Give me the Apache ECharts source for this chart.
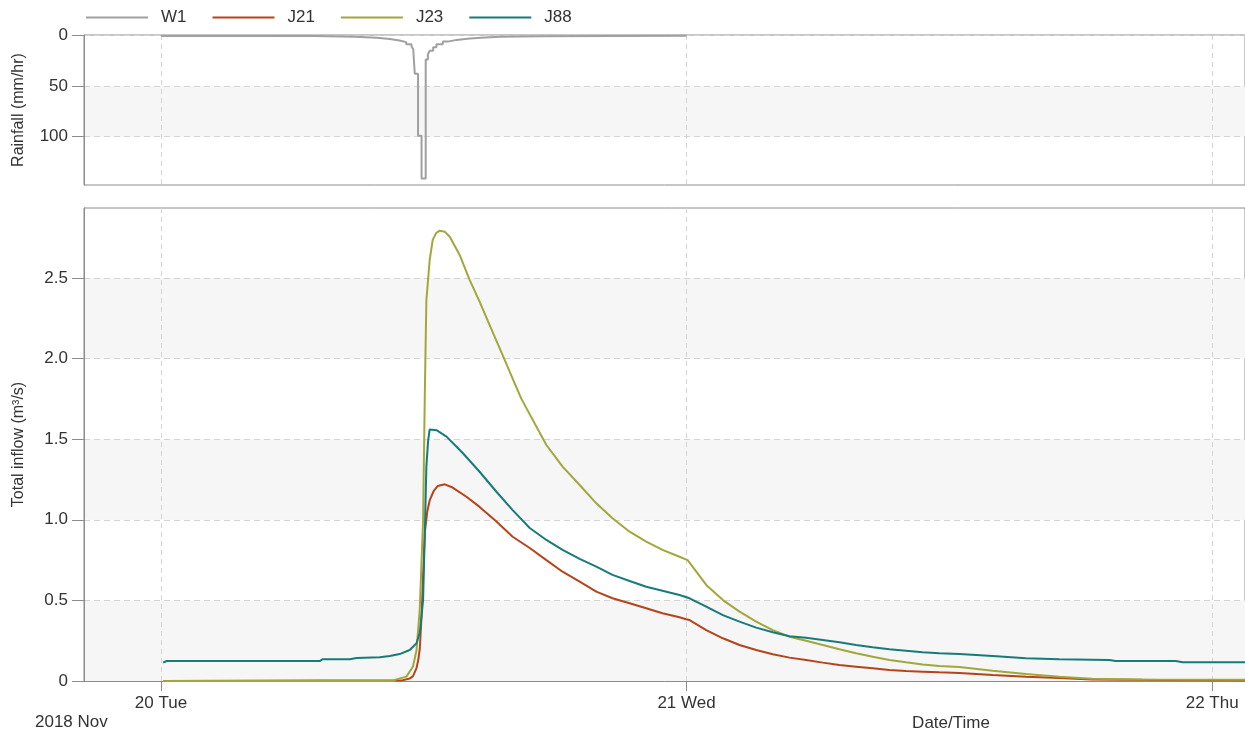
<!DOCTYPE html>
<html>
<head>
<meta charset="utf-8">
<title>Rainfall and total inflow</title>
<script src="https://cdn.jsdelivr.net/npm/echarts@6.0.0/dist/echarts.min.js"></script>
<style>
html, body { margin: 0; padding: 0; background: #fff; }
#chart { width: 1245px; height: 736px; }
</style>
</head>
<body>
<div id="chart"></div>
<script>
'use strict';
// all times are hours from 20 Nov 2018 00:00
var dayTicks = [0, 24, 48];
var dayLabels = ['20 Tue', '21 Wed', '22 Thu'];
var rainTicks = [0, 50, 100];
var flowTicks = [0, 0.5, 1, 1.5, 2, 2.5];
var seriesNames = ['W1', 'J21', 'J23', 'J88'];

// W1 rainfall (mm/hr), each value holds until the next time
var rainHours = [0, 7.0, 8.85, 9.86, 10.45, 10.9, 11.2, 11.44, 11.52, 11.59, 11.74, 11.9, 12.09, 12.19, 12.27, 12.43,
    12.58, 12.87, 13.1, 13.5, 14.1, 14.8, 15.5, 17.3, 24.0];
var rainValues = [1, 1.7, 2.8, 4, 5.5, 7, 9, 11, 14, 38, 99, 141, 24, 19, 15.5, 12,
    9, 6.5, 4.8, 3.5, 2.5, 1.7, 1.2, 0.7, 0.7];

// J21 total inflow (m3/s)
var j21Hours = [0.1, 11.04, 11.36, 11.51, 11.67, 11.75, 11.82, 11.9, 11.97, 12.05, 12.16, 12.27, 12.46, 12.64, 12.96,
    13.32, 13.95, 14.55, 15.32, 16.06, 16.84, 17.6, 18.34, 19.12, 19.88, 20.62, 21.4, 22.16, 22.9, 23.68, 23.98,
    24.14, 24.9, 25.66, 26.42, 27.18, 27.94, 28.7, 29.46, 30.22, 30.98, 31.74, 32.5, 33.26, 34.02, 34.78, 35.54,
    36.46, 37.98, 39.5, 41.02, 42.52, 45.58, 49.5];
var j21Values = [0, 0.005, 0.015, 0.03, 0.08, 0.13, 0.2, 0.4, 0.65, 0.92, 1.05, 1.12, 1.18, 1.21, 1.22,
    1.2, 1.143, 1.08, 0.99, 0.895, 0.825, 0.75, 0.678, 0.616, 0.554, 0.513, 0.482, 0.451, 0.42, 0.395, 0.383,
    0.378, 0.316, 0.265, 0.223, 0.192, 0.166, 0.145, 0.13, 0.114, 0.099, 0.089, 0.079, 0.068, 0.062, 0.058, 0.054,
    0.05, 0.037, 0.027, 0.019, 0.01, 0.006, 0.005];

// J23 total inflow (m3/s)
var j23Hours = [0.1, 10.59, 10.75, 11.21, 11.51, 11.67, 11.82, 11.97, 12.05, 12.12, 12.27, 12.41, 12.57, 12.73, 12.96,
    13.19, 13.64, 14.1, 14.55, 15.01, 15.47, 16.06, 16.46, 17.6, 18.34, 19.12, 19.88, 20.62, 21.4, 22.16, 22.9,
    23.68, 24.05, 24.9, 25.66, 26.42, 27.18, 27.94, 28.7, 29.46, 30.22, 30.98, 31.74, 32.5, 33.26, 34.02, 34.78,
    35.54, 36.46, 37.98, 39.5, 41.02, 42.52, 44.8, 49.5];
var j23Values = [0, 0, 0.01, 0.027, 0.09, 0.19, 0.45, 1.0, 1.787, 2.36, 2.61, 2.736, 2.78, 2.793, 2.787,
    2.756, 2.643, 2.487, 2.353, 2.208, 2.063, 1.876, 1.75, 1.464, 1.33, 1.216, 1.102, 1.009, 0.926, 0.864, 0.813,
    0.771, 0.75, 0.596, 0.502, 0.43, 0.368, 0.316, 0.275, 0.25, 0.223, 0.197, 0.172, 0.151, 0.13, 0.116, 0.103,
    0.093, 0.087, 0.064, 0.043, 0.027, 0.014, 0.01, 0.008];

// J88 total inflow (m3/s)
var j88Hours = [0.1, 0.26, 7.25, 7.39, 8.62, 8.93, 9.99, 10.45, 10.9, 11.36, 11.67, 11.82, 11.97, 12.05, 12.12,
    12.2, 12.27, 12.35, 12.6, 13.04, 13.78, 14.55, 15.32, 16.06, 16.84, 17.6, 18.34, 19.12, 19.88, 20.62, 21.4,
    22.16, 22.9, 23.68, 24.14, 24.9, 25.66, 26.42, 27.18, 27.94, 28.7, 29.46, 30.22, 30.98, 31.74, 32.5, 33.26,
    34.02, 34.78, 35.54, 36.46, 37.98, 39.5, 41.02, 43.3, 43.6, 46.34, 46.65, 49.5];
var j88Values = [0.114, 0.124, 0.124, 0.135, 0.135, 0.143, 0.147, 0.155, 0.167, 0.192, 0.234, 0.3, 0.5, 0.92, 1.33,
    1.49, 1.56, 1.57, 1.555, 1.516, 1.414, 1.298, 1.174, 1.06, 0.949, 0.875, 0.813, 0.757, 0.709, 0.658, 0.62,
    0.585, 0.56, 0.533, 0.513, 0.461, 0.409, 0.368, 0.331, 0.302, 0.278, 0.268, 0.254, 0.24, 0.223, 0.209, 0.197,
    0.188, 0.178, 0.172, 0.168, 0.155, 0.141, 0.135, 0.13, 0.124, 0.124, 0.116, 0.116];

var font = 'Liberation Sans, Arial, sans-serif';
var textColor = '#333';
var axisColor = '#8c8c8c';
var gridColor = '#d4d4d4';

function pairs(hours, values) {
    var arr = [];
    for (var i = 0; i < hours.length; i++) {
        arr.push([hours[i], values[i]]);
    }
    return arr;
}

// x axis shared settings (hours)
function timeAxis(gridIndex, showLabels) {
    return {
        type: 'value',
        gridIndex: gridIndex,
        min: -3.513,
        max: 49.5,
        axisLine: { show: showLabels, onZero: false, lineStyle: { color: axisColor } },
        axisTick: { show: showLabels, length: 10, customValues: dayTicks, lineStyle: { color: axisColor } },
        axisLabel: {
            show: showLabels,
            customValues: dayTicks,
            margin: 14,
            fontSize: 17,
            color: textColor,
            formatter: function (v) {
                var i = dayTicks.indexOf(v);
                return i >= 0 ? dayLabels[i] : '';
            }
        },
        splitLine: { show: true, lineStyle: { type: [5, 4], color: gridColor } }
    };
}

var chart = echarts.init(document.getElementById('chart'), null, { renderer: 'canvas' });

var option = {
    animation: false,
    textStyle: { fontFamily: font },
    color: ['#a0a0a0', '#b5441b', '#a2a73b', '#177b78'],
    legend: {
        left: 86,
        top: 9,
        padding: 0,
        icon: 'rect',
        itemWidth: 62,
        itemHeight: 2,
        itemGap: 26,
        data: seriesNames,
        textStyle: { fontSize: 17, color: textColor, padding: [0, 0, 0, 8] }
    },
    grid: [
        { left: 84, top: 35, width: 1162, height: 150, show: true, borderColor: axisColor, backgroundColor: 'transparent' },
        { left: 84, top: 208, width: 1162, height: 473, show: true, borderColor: axisColor, backgroundColor: 'transparent' }
    ],
    xAxis: [timeAxis(0, false), timeAxis(1, true)],
    yAxis: [{
        type: 'value',
        gridIndex: 0,
        inverse: true,
        min: 0,
        max: 147.5,
        name: 'Rainfall (mm/hr)',
        nameLocation: 'middle',
        nameGap: 57,
        nameTextStyle: { fontSize: 16, color: textColor },
        axisLine: { show: true, onZero: false, lineStyle: { color: axisColor } },
        axisTick: { show: true, length: 12, customValues: rainTicks, lineStyle: { color: axisColor } },
        axisLabel: { customValues: rainTicks, margin: 16, fontSize: 17, color: textColor },
        splitLine: { show: true, lineStyle: { type: [6, 4], color: gridColor } },
        splitArea: { show: true, areaStyle: { color: ['rgba(255,255,255,0)', '#f6f6f6'] } }
    }, {
        type: 'value',
        gridIndex: 1,
        min: 0,
        max: 2.934,
        name: 'Total inflow (m\u00b3/s)',
        nameLocation: 'middle',
        nameGap: 57,
        nameTextStyle: { fontSize: 16, color: textColor },
        axisLine: { show: true, onZero: false, lineStyle: { color: axisColor } },
        axisTick: { show: true, length: 12, customValues: flowTicks, lineStyle: { color: axisColor } },
        axisLabel: {
            customValues: flowTicks,
            margin: 16,
            fontSize: 17,
            color: textColor,
            formatter: function (v) {
                return v === 0 ? '0' : v.toFixed(1);
            }
        },
        splitLine: { show: true, lineStyle: { type: [6, 4], color: gridColor } },
        splitArea: { show: true, areaStyle: { color: ['#f6f6f6', 'rgba(255,255,255,0)'] } }
    }],
    series: [{
        name: 'W1',
        type: 'line',
        xAxisIndex: 0,
        yAxisIndex: 0,
        step: 'end',
        showSymbol: false,
        lineStyle: { width: 2 },
        data: pairs(rainHours, rainValues)
    }, {
        name: 'J21',
        type: 'line',
        xAxisIndex: 1,
        yAxisIndex: 1,
        showSymbol: false,
        lineStyle: { width: 2 },
        data: pairs(j21Hours, j21Values)
    }, {
        name: 'J23',
        type: 'line',
        xAxisIndex: 1,
        yAxisIndex: 1,
        showSymbol: false,
        lineStyle: { width: 2 },
        data: pairs(j23Hours, j23Values)
    }, {
        name: 'J88',
        type: 'line',
        xAxisIndex: 1,
        yAxisIndex: 1,
        showSymbol: false,
        lineStyle: { width: 2 },
        data: pairs(j88Hours, j88Values)
    }],
    graphic: [{
        type: 'text',
        left: 35,
        top: 714,
        style: { text: '2018 Nov', fontSize: 17, fontFamily: font, fill: textColor }
    }, {
        type: 'text',
        x: 951,
        y: 723,
        style: { text: 'Date/Time', fontSize: 17, fontFamily: font, fill: textColor, align: 'center', verticalAlign: 'middle' }
    }]
};

chart.setOption(option);
</script>
</body>
</html>
